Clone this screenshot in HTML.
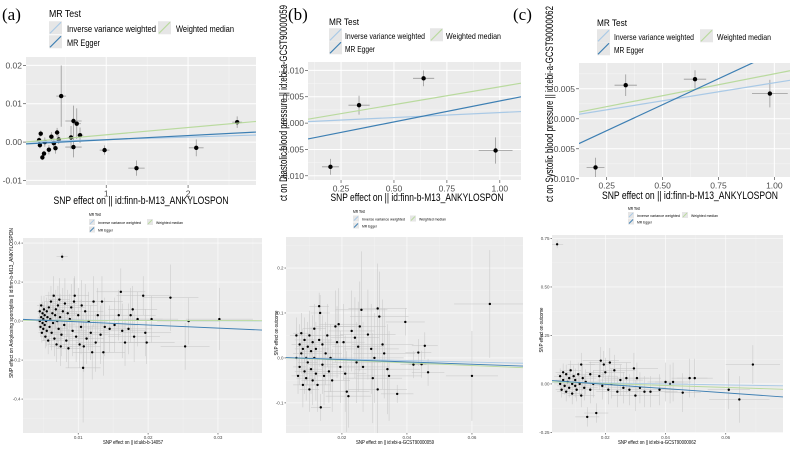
<!DOCTYPE html>
<html><head><meta charset="utf-8"><style>
html,body{margin:0;padding:0;background:#fff;}
svg{display:block;font-family:"Liberation Sans",Arial,sans-serif;}
</style></head><body>
<svg id="fig" width="798" height="453" viewBox="0 0 798 453">
<text x="2" y="20" font-family="Liberation Serif,serif" font-size="17">(a)</text>
<text x="288" y="20" font-family="Liberation Serif,serif" font-size="17">(b)</text>
<text x="513" y="20" font-family="Liberation Serif,serif" font-size="17">(c)</text>
</svg>
<script>
// ---------- top panel data ----------
const aTopX=[0.45,0.6,0.64,0.68,0.57,0.6,0.98,1.37,2.1,2.6,0.2,0.18,0.19,0.22,0.24,0.25,0.3,0.33,0.36,0.38,0.4,0.42];
const aTopY=[0.012,0.0055,0.0048,0.0018,0.0012,-0.0013,-0.0021,-0.0068,-0.0015,0.0052,0.0022,0.0005,-0.0008,-0.004,-0.003,0,-0.002,0.0014,-0.0003,-0.0016,0.0025,0.0007];
const aTopXe=[0.06,0.1,0.05,0.04,0.04,0.1,0.06,0.1,0.09,0.06,0.02,0.02,0.02,0.02,0.02,0.03,0.03,0.03,0.03,0.03,0.03,0.03];
const aTopYe=[0.008,0.004,0.004,0.002,0.003,0.0027,0.0012,0.002,0.0022,0.0015,0.0008,0.001,0.0008,0.0007,0.0007,0.0012,0.0012,0.0012,0.0014,0.0014,0.0012,0.0012];
const bTopX=[0.2,0.335,0.64,0.98];
const bTopY=[-0.0083,0.0034,0.0085,-0.0052];
const bTopXe=[0.04,0.05,0.05,0.08];
const bTopYe=[0.0015,0.0018,0.0015,0.0025];
const cTopX=[0.2,0.335,0.645,0.98];
const cTopY=[-0.0081,0.0056,0.0066,0.0042];
const cTopXe=[0.04,0.05,0.05,0.08];
const cTopYe=[0.0016,0.0018,0.0015,0.0023];
// ---------- bottom panel data ----------
const aBotX=[0.0045,0.0045,0.0046,0.0047,0.0047,0.0048,0.0049,0.0049,0.005,0.005,0.0051,0.0052,0.0052,0.0053,0.0054,0.0055,0.0055,0.0056,0.0057,0.0058,0.0059,0.006,0.0061,0.0062,0.0063,0.0064,0.0065,0.0066,0.0067,0.0068,0.0069,0.007,0.0071,0.0072,0.0073,0.0074,0.0075,0.0076,0.0077,0.0078,0.008,0.0081,0.0083,0.0085,0.0086,0.0088,0.009,0.0092,0.0094,0.0095,0.0097,0.01,0.0102,0.0104,0.0105,0.0107,0.0108,0.011,0.0112,0.0115,0.0118,0.012,0.0122,0.0125,0.0128,0.0132,0.0134,0.0136,0.0138,0.0145,0.0152,0.0158,0.0161,0.0163,0.0167,0.0172,0.0175,0.0178,0.018,0.0185,0.0193,0.0196,0.0198,0.0205,0.0232,0.0253,0.0258,0.0302];
const aBotY=[0.05,0.0,-0.03,0.08,0.02,-0.06,0.04,-0.01,0.01,-0.04,0.06,0.03,-0.02,-0.08,0.0,0.05,-0.05,0.02,-0.1,0.07,-0.03,0.01,0.1,-0.06,0.04,-0.01,0.13,-0.09,0.03,0.06,-0.12,0.0,0.08,-0.04,0.11,0.02,-0.13,-0.07,0.33,0.05,-0.02,0.09,-0.1,0.04,-0.14,0.01,0.07,-0.05,0.1,0.13,-0.08,0.03,-0.12,-0.03,0.08,-0.24,-0.13,0.05,-0.09,0.0,-0.06,-0.16,0.1,-0.11,0.03,-0.07,0.1,-0.16,-0.03,-0.04,-0.02,0.03,0.15,-0.05,-0.11,-0.04,0.03,0.06,-0.08,0.01,0.13,-0.06,-0.11,0.01,0.12,-0.13,0.0,0.01];
const aBotXe=[0.0004,0.0005,0.0004,0.0006,0.0005,0.0005,0.0006,0.0007,0.0008,0.0006,0.0007,0.0008,0.0009,0.0007,0.001,0.0009,0.0008,0.001,0.0009,0.001,0.0011,0.0012,0.001,0.0012,0.0013,0.0011,0.0012,0.0013,0.0014,0.0012,0.0013,0.0014,0.0015,0.0013,0.0015,0.0014,0.0016,0.0015,0.0008,0.0016,0.0016,0.0017,0.0018,0.0017,0.0018,0.002,0.0019,0.002,0.0021,0.002,0.0022,0.0022,0.0023,0.0024,0.0022,0.0025,0.0024,0.0026,0.0025,0.0027,0.0026,0.0028,0.0027,0.0028,0.003,0.0029,0.003,0.0031,0.003,0.0032,0.0033,0.0034,0.0035,0.0033,0.0035,0.0034,0.0036,0.0035,0.0037,0.0036,0.0038,0.0037,0.004,0.0038,0.004,0.0035,0.0045,0.0048];
const aBotYe=[0.04,0.05,0.05,0.05,0.06,0.05,0.06,0.06,0.07,0.06,0.07,0.07,0.08,0.06,0.08,0.07,0.08,0.08,0.07,0.08,0.09,0.09,0.08,0.09,0.1,0.09,0.1,0.09,0.1,0.1,0.09,0.11,0.1,0.1,0.11,0.12,0.1,0.11,0.02,0.12,0.12,0.13,0.11,0.12,0.1,0.13,0.12,0.13,0.12,0.1,0.13,0.14,0.12,0.14,0.13,0.28,0.13,0.14,0.13,0.15,0.14,0.14,0.13,0.15,0.14,0.15,0.13,0.12,0.15,0.12,0.14,0.13,0.12,0.14,0.12,0.13,0.14,0.12,0.13,0.14,0.1,0.12,0.11,0.12,0.17,0.12,0.12,0.16];
const bBotX=[0.006,0.006,0.0065,0.007,0.007,0.0075,0.0075,0.008,0.008,0.0085,0.0085,0.009,0.009,0.0095,0.0095,0.01,0.01,0.0105,0.0105,0.011,0.011,0.0115,0.0115,0.012,0.012,0.0125,0.013,0.013,0.0133,0.0135,0.014,0.014,0.0145,0.015,0.0155,0.016,0.0165,0.017,0.018,0.0185,0.019,0.0195,0.0205,0.021,0.0215,0.022,0.023,0.024,0.0245,0.025,0.0255,0.026,0.0265,0.028,0.029,0.0295,0.03,0.031,0.031,0.0315,0.0325,0.033,0.034,0.0345,0.037,0.0395,0.042,0.0435,0.0445,0.0455,0.0465,0.06,0.0655];
const bBotY=[0.05,0.0,-0.04,0.03,-0.02,0.055,0.01,-0.06,0.02,-0.03,0.04,0.0,-0.045,0.025,-0.01,0.05,-0.07,0.015,-0.025,0.035,-0.05,0.0,0.065,-0.035,0.02,-0.06,0.115,0.04,0.1,-0.11,-0.015,0.03,-0.04,0.01,0.05,-0.03,0.0,-0.05,0.07,0.035,0.075,-0.02,0.035,-0.035,-0.075,-0.085,0.06,0.045,-0.01,0.025,0.07,0.107,-0.02,0.052,0.02,-0.045,0.0,0.11,-0.07,0.092,0.03,0.01,-0.025,-0.04,-0.08,0.08,-0.015,0.012,-0.014,0.027,-0.032,-0.04,0.12];
const bBotXe=[0.002,0.002,0.002,0.0025,0.002,0.0025,0.0025,0.003,0.0025,0.003,0.003,0.003,0.003,0.0035,0.003,0.0035,0.003,0.0035,0.0035,0.004,0.0035,0.004,0.0035,0.004,0.004,0.004,0.003,0.004,0.003,0.003,0.0045,0.0045,0.0045,0.005,0.005,0.005,0.005,0.0055,0.006,0.006,0.006,0.006,0.0065,0.0065,0.007,0.007,0.007,0.0075,0.0075,0.008,0.008,0.008,0.008,0.0085,0.0085,0.009,0.009,0.009,0.009,0.009,0.0095,0.0095,0.01,0.01,0.005,0.006,0.004,0.004,0.004,0.004,0.005,0.008,0.011];
const bBotYe=[0.04,0.04,0.04,0.045,0.04,0.045,0.045,0.05,0.045,0.05,0.05,0.05,0.05,0.055,0.05,0.055,0.05,0.055,0.055,0.06,0.055,0.06,0.055,0.06,0.06,0.06,0.03,0.06,0.04,0.03,0.065,0.065,0.065,0.07,0.07,0.07,0.075,0.07,0.08,0.08,0.08,0.08,0.085,0.085,0.09,0.07,0.09,0.09,0.09,0.1,0.1,0.13,0.1,0.1,0.1,0.1,0.1,0.1,0.1,0.1,0.1,0.1,0.1,0.1,0.02,0.03,0.03,0.03,0.03,0.03,0.03,0.1,0.12];
const cBotX=[0.004,0.005,0.005,0.0055,0.006,0.006,0.0065,0.007,0.007,0.0075,0.008,0.008,0.0085,0.009,0.009,0.0095,0.01,0.01,0.0105,0.011,0.0115,0.012,0.012,0.0125,0.013,0.0135,0.014,0.015,0.015,0.016,0.017,0.018,0.0185,0.019,0.0195,0.02,0.021,0.0215,0.022,0.023,0.024,0.025,0.026,0.027,0.028,0.0295,0.03,0.0305,0.0315,0.033,0.035,0.038,0.04,0.0415,0.0425,0.0457,0.048,0.0497,0.061,0.0645,0.069];
const cBotY=[0.72,0.04,0.0,-0.03,0.06,0.02,-0.01,0.05,-0.04,0.01,0.03,-0.02,0.07,-0.05,0.0,0.04,-0.01,0.02,-0.03,0.05,0.0,0.1,-0.06,0.03,-0.02,0.01,-0.17,0.05,-0.03,0.0,-0.15,0.04,0.12,-0.01,0.1,0.06,-0.03,0.11,0.0,0.07,-0.04,0.02,-0.02,0.03,-0.03,0.08,-0.06,0.03,-0.02,-0.04,-0.04,-0.03,0.01,0.0,0.01,-0.045,0.03,0.03,-0.03,-0.08,0.1];
const cBotXe=[0.002,0.002,0.002,0.002,0.0025,0.0025,0.0025,0.003,0.003,0.003,0.003,0.003,0.0035,0.0035,0.0035,0.0035,0.004,0.004,0.004,0.004,0.004,0.0045,0.0045,0.0045,0.0045,0.005,0.004,0.005,0.005,0.0055,0.004,0.006,0.006,0.006,0.006,0.0065,0.0065,0.007,0.007,0.007,0.007,0.0075,0.0075,0.0075,0.008,0.008,0.008,0.008,0.0085,0.0085,0.009,0.009,0.006,0.006,0.006,0.006,0.006,0.006,0.007,0.01,0.009];
const cBotYe=[0.02,0.04,0.04,0.04,0.045,0.045,0.045,0.05,0.05,0.05,0.05,0.05,0.05,0.055,0.055,0.055,0.06,0.06,0.06,0.06,0.06,0.06,0.06,0.065,0.065,0.065,0.05,0.065,0.07,0.07,0.05,0.07,0.07,0.07,0.07,0.075,0.075,0.075,0.075,0.08,0.08,0.08,0.08,0.08,0.08,0.08,0.08,0.08,0.08,0.08,0.08,0.08,0.1,0.1,0.1,0.1,0.1,0.1,0.1,0.12,0.1];
// ---------- MR fit lines: [intercept, slope] for IVW, weighted median, Egger ----------
const aTopFit=[[0,0.00065],[0,0.0019],[-0.0005,0.0011]];
const bTopFit=[[0.0001,0.0019],[0.0001,0.0068],[-0.00375,0.00795]];
const cTopFit=[[0,0.006],[0.0002,0.0073],[-0.0063,0.0173]];
const aBotFit=[[0.006,-0.15],[0.004,-0.05],[0.012,-1.6]];
const bBotFit=[[0.001,-0.17],[0.001,-0.3],[0.0015,-0.26]];
const cBotFit=[[0.01,-0.25],[0.012,-0.5],[0.02,-1.1]];
// ---------- tick labels ----------
const aTopXt=[1,2], aTopXl=["1","2"], aTopYt=[-0.01,0,0.01,0.02], aTopYl=["-0.01","0.00","0.01","0.02"];
const bTopXt=[0.25,0.5,0.75,1], bTopXl=["0.25","0.50","0.75","1.00"], bTopYt=[-0.01,-0.005,0,0.005,0.01], bTopYl=["-0.010","-0.005","0.000","0.005","0.010"];
const cTopXt=[0.25,0.5,0.75,1], cTopXl=["0.25","0.50","0.75","1.00"], cTopYt=[-0.01,-0.005,0,0.005], cTopYl=["-0.010","-0.005","0.000","0.005"];
const aBotXt=[0.01,0.02,0.03], aBotXl=["0.01","0.02","0.03"], aBotYt=[-0.4,-0.2,0,0.2,0.4], aBotYl=["-0.4","-0.2","0.0","0.2","0.4"];
const bBotXt=[0.02,0.04,0.06], bBotXl=["0.02","0.04","0.06"], bBotYt=[-0.1,0,0.1,0.2], bBotYl=["-0.1","0.0","0.1","0.2"];
const cBotXt=[0.02,0.04,0.06], cBotXl=["0.02","0.04","0.06"], cBotYt=[-0.25,0,0.25,0.5,0.75], cBotYl=["-0.25","0.00","0.25","0.50","0.75"];

const NS="http://www.w3.org/2000/svg";
const svg=document.getElementById('fig');
const COL={ivw:"#a9c9e6",wm:"#b9da9e",egger:"#3d7fb3"};
function mk(tag,attrs,parent){const e=document.createElementNS(NS,tag);for(const k in attrs)e.setAttribute(k,attrs[k]);(parent||svg).appendChild(e);return e;}

function panel(p){
  const g=mk('g',{});
  
  
  const sx=v=>p.L+(v-p.x0)/(p.x1-p.x0)*(p.R-p.L);
  const sy=v=>p.B-(v-p.y0)/(p.y1-p.y0)*(p.B-p.T);
  const cid='clip-'+p.name;
  const cp=mk('clipPath',{id:cid},g);mk('rect',{x:p.L,y:p.T,width:p.R-p.L,height:p.B-p.T},cp);
  const bg=mk('rect',{x:p.L,y:p.T,width:p.R-p.L,height:p.B-p.T,fill:'#ebebeb'},g);
  
  
  const pg=mk('g',{'clip-path':'url(#'+cid+')'},g);
  const mx=[],my=[];
  for(let i=0;i<p.xt.length-1;i++)mx.push((p.xt[i]+p.xt[i+1])/2);
  for(let i=0;i<p.yt.length-1;i++)my.push((p.yt[i]+p.yt[i+1])/2);
  if(p.xt.length>1){const d=p.xt[1]-p.xt[0];mx.push(p.xt[0]-d/2,p.xt[p.xt.length-1]+d/2);}
  if(p.yt.length>1){const d=p.yt[1]-p.yt[0];my.push(p.yt[0]-d/2,p.yt[p.yt.length-1]+d/2);}
  mx.forEach(v=>mk('line',{x1:sx(v),x2:sx(v),y1:p.T,y2:p.B,stroke:'#f7f7f7','stroke-width':p.gw*0.5},pg));
  my.forEach(v=>mk('line',{x1:p.L,x2:p.R,y1:sy(v),y2:sy(v),stroke:'#f7f7f7','stroke-width':p.gw*0.5},pg));
  p.xt.forEach((v,i)=>{
    mk('line',{x1:sx(v),x2:sx(v),y1:p.T,y2:p.B,stroke:'#fff','stroke-width':p.gw},pg);
    mk('line',{x1:sx(v),x2:sx(v),y1:p.B,y2:p.B+p.tk,stroke:'#333','stroke-width':0.6},g);
    const t=mk('text',{x:sx(v),y:p.B+p.tk+p.fs,'font-size':p.fs,fill:'#4d4d4d','text-anchor':'middle'},g);
    t.textContent=p.xl[i];
    
    
  });
  p.yt.forEach((v,i)=>{
    mk('line',{x1:p.L,x2:p.R,y1:sy(v),y2:sy(v),stroke:'#fff','stroke-width':p.gw},pg);
    mk('line',{x1:p.L-p.tk,x2:p.L,y1:sy(v),y2:sy(v),stroke:'#333','stroke-width':0.6},g);
    const t=mk('text',{x:p.L-p.tk-1,y:sy(v)+p.fs*0.35,'font-size':p.fs,fill:'#4d4d4d','text-anchor':'end'},g);
    t.textContent=p.yl[i];
    
    
  });
  for(let i=0;i<p.xs.length;i++){
    const x=p.xs[i],y=p.ys[i];
    mk('line',{x1:sx(x-p.xe[i]),x2:sx(x+p.xe[i]),y1:sy(y),y2:sy(y),stroke:p.ec,'stroke-width':p.ew},pg);
    mk('line',{x1:sx(x),x2:sx(x),y1:sy(y-p.ye[i]),y2:sy(y+p.ye[i]),stroke:p.ec,'stroke-width':p.ew},pg);
  }
  for(let i=0;i<p.xs.length;i++){
    const c=mk('circle',{cx:sx(p.xs[i]),cy:sy(p.ys[i]),r:p.r,fill:'#000'},pg);
    
    
  }
  const keys=['ivw','wm','egger'];
  p.fit.forEach((f,i)=>{
    const l=mk('line',{x1:p.L,x2:p.R,y1:sy(f[0]+f[1]*p.x0),y2:sy(f[0]+f[1]*p.x1),stroke:COL[keys[i]],'stroke-width':p.lw},pg);
    
    
  });
  const xt=mk('text',{x:p.xlx,y:p.xly,'font-size':p.tfs,fill:'#000','text-anchor':'middle',textLength:p.xw,lengthAdjust:'spacingAndGlyphs'},g);
  xt.textContent=p.xtitle;
  
  
  if(p.ytitle){
    const yt=mk('text',{x:0,y:0,'font-size':p.tfs,fill:'#000','text-anchor':p.yanchor,textLength:p.yw,lengthAdjust:'spacingAndGlyphs',transform:'translate('+p.ylx+','+p.yly+') rotate(-90)'},g);
    yt.textContent=p.ytitle;
    
    
  }
  const lg=mk('g',{},g);
  
  
  const L=p.leg,s=L.s;
  const ti=mk('text',{x:L.x,y:L.y,'font-size':L.fs*1.1,fill:'#000',textLength:L.w[3],lengthAdjust:'spacingAndGlyphs'},lg);ti.textContent='MR Test';
  const ents=[['ivw','Inverse variance weighted',L.x,L.y+L.dy,L.w[0]],['wm','Weighted median',L.x2,L.y+L.dy,L.w[1]],['egger','MR Egger',L.x,L.y+2*L.dy,L.w[2]]];
  ents.forEach(e=>{
    const eg=mk('g',{},lg);
    
    
    const ky=e[3]-s*0.75;
    mk('rect',{x:e[2],y:ky,width:s,height:s,fill:'#e6e6e6'},eg);
    mk('line',{x1:e[2]+1,y1:ky+s-1,x2:e[2]+s-1,y2:ky+1,stroke:COL[e[0]],'stroke-width':p.lw},eg);
    const t=mk('text',{x:e[2]+s+L.gap,y:e[3]+L.fs*0.1,'font-size':L.fs,fill:'#000',textLength:e[4],lengthAdjust:'spacingAndGlyphs'},eg);t.textContent=e[1];
  });
}

const topCommon={gw:1,tk:3,fs:8.5,tfs:11,r:2.2,ec:'#999',ew:0.8,lw:1.2};
const botCommon={gw:0.6,tk:1.5,fs:4.5,tfs:5,r:1.2,ec:'#c4c4c4',ew:0.5,lw:0.9};

panel(Object.assign({},topCommon,{name:'panel-a-top',L:26,R:256,T:57,B:185,x0:0.02,x1:2.83,y0:-0.0112,y1:0.0222,
  xs:aTopX,ys:aTopY,xe:aTopXe,ye:aTopYe,fit:aTopFit,xt:aTopXt,xl:aTopXl,yt:aTopYt,yl:aTopYl,
  xtitle:'SNP effect on  || id:finn-b-M13_ANKYLOSPON',xlx:141,xly:204,xw:175,
  leg:{x:49,y:17,dy:14,x2:158,s:13,fs:9,gap:5,w:[89,58,33,32]}}));
panel(Object.assign({},topCommon,{name:'panel-b-top',L:308,R:521,T:62,B:180,x0:0.094,x1:1.10,y0:-0.0108,y1:0.0116,
  xs:bTopX,ys:bTopY,xe:bTopXe,ye:bTopYe,fit:bTopFit,xt:bTopXt,xl:bTopXl,yt:bTopYt,yl:bTopYl,
  xtitle:'SNP effect on  || id:finn-b-M13_ANKYLOSPON',xlx:417,xly:201,xw:173,
  ytitle:'ct on Diastolic blood pressure || id:ebi-a-GCST90000059',ylx:287,yly:201,yanchor:'start',yw:196,
  leg:{x:329,y:25,dy:13,x2:430,s:13,fs:8.5,gap:3,w:[80,55,30,30]}}));
panel(Object.assign({},topCommon,{name:'panel-c-top',L:579,R:790,T:63,B:177,x0:0.126,x1:1.07,y0:-0.0097,y1:0.0093,
  xs:cTopX,ys:cTopY,xe:cTopXe,ye:cTopYe,fit:cTopFit,xt:cTopXt,xl:cTopXl,yt:cTopYt,yl:cTopYl,
  xtitle:'SNP effect on  || id:finn-b-M13_ANKYLOSPON',xlx:690,xly:199,xw:176,
  ytitle:'ct on Systolic blood pressure || id:ebi-a-GCST90000062',ylx:553,yly:202,yanchor:'start',yw:196,
  leg:{x:597,y:26,dy:13,x2:700,s:13,fs:8.5,gap:4,w:[80,54,30,30]}}));
panel(Object.assign({},botCommon,{name:'panel-a-bottom',L:23,R:262,T:238,B:433,x0:0.0021,x1:0.0363,y0:-0.574,y1:0.426,
  xs:aBotX,ys:aBotY,xe:aBotXe,ye:aBotYe,fit:aBotFit,xt:aBotXt,xl:aBotXl,yt:aBotYt,yl:aBotYl,
  xtitle:'SNP effect on  || id:ukb-b-14057',xlx:133,xly:444,xw:60,
  ytitle:'SNP effect on Ankylosing spondylitis || id:finn-b-M13_ANKYLOSPON',ylx:13,yly:303,yanchor:'middle',yw:150,
  leg:{x:89,y:216,dy:7.5,x2:147,s:6,fs:3.8,gap:3,w:[43,27,15,12]}}));
panel(Object.assign({},botCommon,{name:'panel-b-bottom',L:286,R:523,T:237,B:433,x0:0.0028,x1:0.0757,y0:-0.167,y1:0.269,
  xs:bBotX,ys:bBotY,xe:bBotXe,ye:bBotYe,fit:bBotFit,xt:bBotXt,xl:bBotXl,yt:bBotYt,yl:bBotYl,
  xtitle:'SNP effect on  || id:ebi-a-GCST90000059',xlx:395,xly:444,xw:78,
  ytitle:'SNP effect on outcome',ylx:278,yly:333,yanchor:'middle',yw:45,
  leg:{x:353,y:213,dy:7,x2:410,s:6,fs:3.8,gap:3,w:[43,27,15,12]}}));
panel(Object.assign({},botCommon,{name:'panel-c-bottom',L:552,R:783,T:235,B:433,x0:0.0023,x1:0.079,y0:-0.253,y1:0.768,
  xs:cBotX,ys:cBotY,xe:cBotXe,ye:cBotYe,fit:cBotFit,xt:cBotXt,xl:cBotXl,yt:cBotYt,yl:cBotYl,
  xtitle:'SNP effect on  || id:ebi-a-GCST90000062',xlx:657,xly:444,xw:78,
  ytitle:'SNP effect on outcome',ylx:543,yly:330,yanchor:'middle',yw:45,
  leg:{x:628,y:210,dy:6.5,x2:682,s:6,fs:3.8,gap:3,w:[43,27,15,12]}}));
</script>
</body></html>
